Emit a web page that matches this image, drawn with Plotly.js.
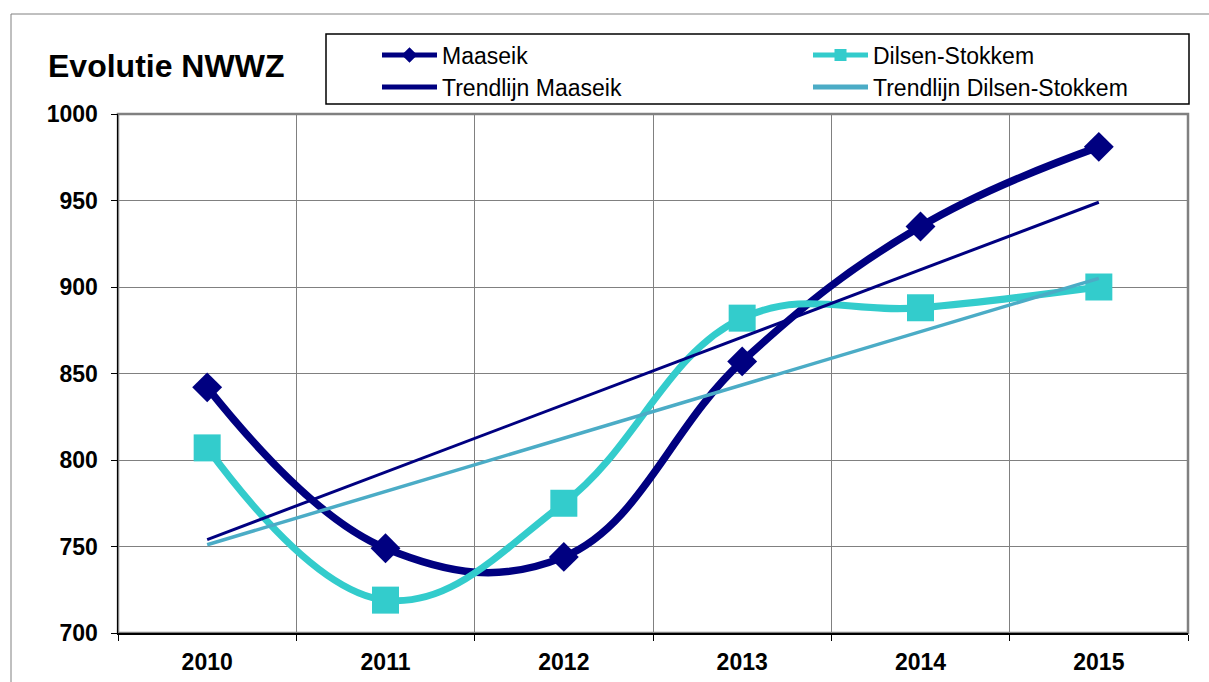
<!DOCTYPE html>
<html>
<head>
<meta charset="utf-8">
<script src="https://cdn.plot.ly/plotly-3.0.1.min.js"></script>
<style>html,body{margin:0;padding:0;background:#fff;}#chart{width:1209px;height:682px;}</style>
</head>
<body>
<div id="chart"></div>
<script>
// ---- data ----
const years = ['2010', '2011', '2012', '2013', '2014', '2015'];
const maaseik = [842, 749, 744, 857, 935, 981];
const dilsen = [807, 719, 775, 882, 888, 900];
const trendYears = ['2010', '2015'];
const trendMaaseik = [754, 949];
const trendDilsen = [751, 905];
const seriesNames = ['Maaseik', 'Dilsen-Stokkem', 'Trendlijn Maaseik', 'Trendlijn Dilsen-Stokkem'];
const yTicks = [700, 750, 800, 850, 900, 950, 1000];

const FONT = 'Liberation Sans, Arial, sans-serif';
const NAVY = '#000080', TURQ = '#33CCCC', TRENDBLUE = '#4BACC6';

// layout geometry helpers (pixels -> paper)
const W = 1209, H = 682, L = 118, R = 21, T = 114, B = 49;
const pw = W - L - R, ph = H - T - B;
const px = x => (x - L) / pw;
const py = y => (H - B - y) / ph;

const traces = [
  {x: years, y: maaseik, name: seriesNames[0], type: 'scatter', mode: 'lines+markers',
   line: {color: NAVY, width: 7.5, shape: 'spline', smoothing: 1.15},
   marker: {symbol: 'diamond', size: 23, color: NAVY}, legend: 'legend'},
  {x: years, y: dilsen, name: seriesNames[1], type: 'scatter', mode: 'lines+markers',
   line: {color: TURQ, width: 7, shape: 'spline', smoothing: 1.15},
   marker: {symbol: 'square', size: 27, color: TURQ}, legend: 'legend2'},
  {x: trendYears, y: trendMaaseik, name: seriesNames[2], type: 'scatter', mode: 'lines',
   line: {color: NAVY, width: 3}, legend: 'legend3'},
  {x: trendYears, y: trendDilsen, name: seriesNames[3], type: 'scatter', mode: 'lines',
   line: {color: TRENDBLUE, width: 3.5}, legend: 'legend4'}
];

function leg(xpx, ypx) {
  return {x: px(xpx), y: py(ypx), xanchor: 'left', yanchor: 'middle',
    bgcolor: 'rgba(0,0,0,0)', borderwidth: 0, itemwidth: 55, itemsizing: 'constant',
    font: {family: FONT, size: 23, color: '#000'}};
}

const layout = {
  width: W, height: H,
  margin: {l: L, r: R, t: T, b: B},
  paper_bgcolor: '#fff', plot_bgcolor: '#fff',
  showlegend: true,
  title: {text: 'Evolutie NWWZ', x: 48 / W, xanchor: 'left', xref: 'container',
          y: 1 - 66 / H, yanchor: 'middle', yref: 'container',
          font: {family: FONT, size: 32, weight: 700, color: '#000'}},
  xaxis: {type: 'category', range: [-0.5, 5.5], tickson: 'boundaries',
          showgrid: true, gridcolor: '#808080', gridwidth: 1,
          ticks: 'outside', ticklen: 6, tickcolor: '#000', tickwidth: 1,
          showline: true, linecolor: '#000', linewidth: 1.5,
          ticklabelstandoff: 8,
          tickfont: {family: FONT, size: 23, weight: 700, color: '#000'}, fixedrange: true},
  yaxis: {range: [700, 1000], tickvals: yTicks, zeroline: false,
          showgrid: true, gridcolor: '#808080', gridwidth: 1,
          ticks: 'outside', ticklen: 6, tickcolor: '#000', tickwidth: 1,
          showline: true, linecolor: '#000', linewidth: 1.5,
          ticklabelstandoff: 8,
          tickfont: {family: FONT, size: 23, weight: 700, color: '#000'}, fixedrange: true},
  legend: leg(377, 55),
  legend2: leg(808, 55),
  legend3: leg(377, 87),
  legend4: leg(808, 87),
  shapes: [
    {type: 'rect', xref: 'paper', yref: 'paper', x0: px(11), x1: px(1230), y0: py(700), y1: py(14),
     line: {color: '#808080', width: 1}, fillcolor: 'rgba(0,0,0,0)', layer: 'below'},
    {type: 'rect', xref: 'paper', yref: 'paper', x0: 0, x1: 1, y0: 0, y1: 1,
     line: {color: '#808080', width: 2.5}, fillcolor: 'rgba(0,0,0,0)', layer: 'below'},
    {type: 'rect', xref: 'paper', yref: 'paper', x0: px(326), x1: px(1189), y0: py(104), y1: py(34),
     line: {color: '#000', width: 1.5}, fillcolor: '#fff', layer: 'below'}
  ]
};

Plotly.newPlot('chart', traces, layout, {displayModeBar: false, staticPlot: true});
</script>
</body>
</html>
